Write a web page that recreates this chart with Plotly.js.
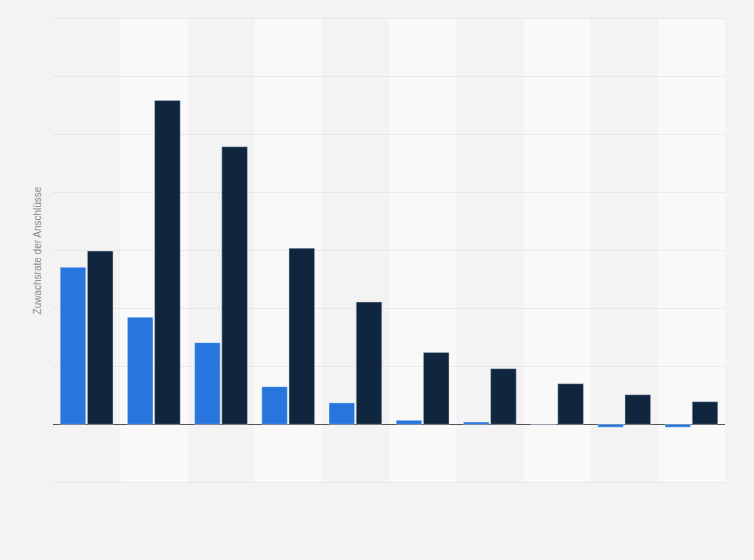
<!DOCTYPE html>
<html>
<head>
<meta charset="utf-8">
<script src="https://cdn.plot.ly/plotly-3.0.1.min.js"></script>
<style>
  html, body { margin: 0; padding: 0; background: #f3f3f3; }
  #chart { width: 754px; height: 560px; }
</style>
</head>
<body>
<div id="chart"></div>
<script>
// categories carry no visible labels in the picture
const categories = ['1', '2', '3', '4', '5', '6', '7', '8', '9', '10'];
const seriesA = [2.71, 1.85, 1.41, 0.65, 0.37, 0.07, 0.04, 0.005, -0.05, -0.05];
const seriesB = [2.99, 5.59, 4.79, 3.04, 2.11, 1.24, 0.96, 0.70, 0.51, 0.39];
const seriesNames = ['Serie 1', 'Serie 2'];
const yTitle = 'Zuwachsrate der Anschlüsse';
const yMin = -1, yMax = 7;

let data = [
  {
    type: 'bar',
    name: seriesNames[0],
    x: categories,
    y: seriesA,
    marker: {color: '#2876dd', line: {color: 'rgba(255,255,255,0.35)', width: 1}},
    hoverinfo: 'y'
  },
  {
    type: 'bar',
    name: seriesNames[1],
    x: categories,
    y: seriesB,
    marker: {color: '#0f263e', line: {color: 'rgba(200,210,220,0.45)', width: 1}},
    hoverinfo: 'y'
  }
];

// lighter band behind every second category
let bands = [];
for (let i = 1; i < categories.length; i += 2) {
  bands.push({
    type: 'rect',
    xref: 'x',
    yref: 'y',
    x0: i - 0.5,
    x1: i + 0.5,
    y0: yMin,
    y1: yMax,
    fillcolor: '#f9f9f9',
    line: {width: 0},
    layer: 'below'
  });
}

let layout = {
  width: 754,
  height: 560,
  margin: {l: 53, r: 29, t: 17, b: 76},
  paper_bgcolor: '#f3f3f3',
  plot_bgcolor: '#f3f3f3',
  barmode: 'group',
  bargap: 0.19,
  bargroupgap: 0.06,
  showlegend: false,
  font: {family: 'Liberation Sans, Arial, sans-serif', color: '#888'},
  xaxis: {
    type: 'category',
    range: [-0.5, categories.length - 0.5],
    showticklabels: false,
    showgrid: false,
    zeroline: false,
    showline: false,
    ticks: ''
  },
  yaxis: {
    // padded past -1..7 so the edge gridlines are kept
    range: [yMin - 0.03, yMax + 0.03],
    tick0: 0,
    dtick: 1,
    showticklabels: false,
    showgrid: true,
    gridcolor: '#dcdcdc',
    griddash: '1px,1px',
    gridwidth: 1,
    zeroline: true,
    zerolinecolor: '#555555',
    zerolinewidth: 1,
    showline: false,
    ticks: '',
    title: {text: yTitle, font: {size: 10, color: '#8a8a8a'}, standoff: 8}
  },
  shapes: bands
};

Plotly.newPlot('chart', data, layout, {displayModeBar: false, staticPlot: true});
</script>
</body>
</html>
